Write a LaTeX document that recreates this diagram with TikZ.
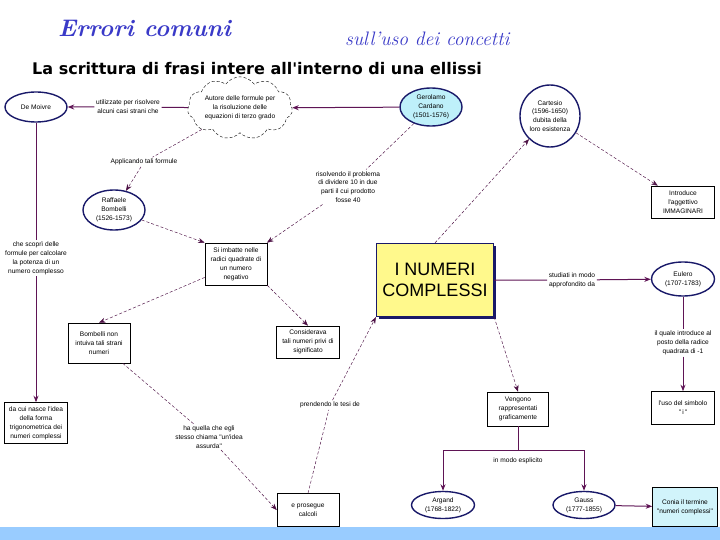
\documentclass[tikz,border=0pt]{standalone}
\usepackage{fontspec}
\newfontfamily\labfont{Liberation Sans}
\newfontfamily\subfont{DejaVu Sans}
\usetikzlibrary{shapes.geometric,shapes.symbols,arrows.meta,shadows}
\definecolor{navyc}{RGB}{25,25,105}
\definecolor{lnk}{RGB}{95,20,85}
\definecolor{titc}{RGB}{58,58,200}
\definecolor{cyanc}{RGB}{190,240,250}
\definecolor{barc}{RGB}{153,204,255}
\newcommand\lab{\labfont\fontsize{6.6}{8.9}\selectfont}
\tikzstyle{ell}=[ellipse, draw=navyc, line width=1.4pt, fill=white, inner sep=0, minimum width=62pt, minimum height=30pt, align=center, font=\lab]
\tikzstyle{bx}=[rectangle, draw=black, line width=0.6pt, fill=white, inner sep=1pt, minimum width=62pt, minimum height=33pt, align=center, font=\lab]
\tikzstyle{lbl}=[inner sep=1.5pt, align=center, font=\lab]
\tikzstyle{fl}=[draw=lnk, line width=1pt, -{Stealth[length=6.5pt,width=5pt]}]
\tikzstyle{ln}=[draw=lnk, line width=1pt]
\tikzstyle{dl}=[draw=lnk!80!black, line width=0.45pt, densely dashed, -{Stealth[length=6.5pt,width=5pt]}]

\begin{document}
\begin{tikzpicture}[x=1pt,y=-1pt]
\useasboundingbox (0,0) rectangle (720,540);
\fill[white] (0,0) rectangle (720,540);
\fill[barc] (0,527) rectangle (720,540);
% titles
\node[anchor=base west, inner sep=0, text=titc, font=\fontsize{24}{28}\selectfont\bfseries\itshape] (tit) at (58,37) {Errori comuni};
\node[anchor=base west, inner sep=0, text=titc, font=\fontsize{19.5}{22}\selectfont\itshape] (subtit) at (345,46) {sull'uso dei concetti};
\node[anchor=base west, inner sep=0, font=\subfont\fontsize{16}{18}\selectfont\bfseries] (head) at (32,75) {La scrittura di frasi intere all'interno di una ellissi};
% nodes
\node[ell] (moivre) at (36,107) {De Moivre};
\node[lbl] (l1) at (128,107) {utilizzate per risolvere\\alcuni casi strani che};
\node[cloud, cloud puffs=11, cloud puff arc=110, aspect=2, draw=black, densely dashed, fill=white, minimum width=105pt, minimum height=54pt, inner sep=0, align=center, font=\lab] (cloud) at (240,108) {Autore delle formule per\\la risoluzione delle\\equazioni di terzo grado};
\node[ell, fill=cyanc, minimum height=38pt] (cardano) at (431,107) {Gerolamo\\Cardano\\(1501-1576)};
\node[ell, minimum width=60pt, minimum height=62pt] (cartesio) at (550,116) {Cartesio\\(1596-1650)\\dubita della\\loro esistenza};
\node[bx, minimum width=63pt, minimum height=32pt] (intro) at (683,202) {Introduce\\l'aggettivo\\IMMAGINARI};
\node[lbl] (l2) at (144,162) {Applicando tali formule};
\node[ell, minimum height=40pt] (raff) at (114,210) {Raffaele\\Bombelli\\(1526-1573)};
\node[lbl] (l3) at (348,187) {risolvendo il problema\\di dividere 10 in due\\parti il cui prodotto\\fosse 40};
\node[bx, minimum height=42pt] (imbatte) at (236,264) {Si imbatte nelle\\radici quadrate di\\un numero\\negativo};
\node[rectangle, draw=navyc, line width=1.3pt, fill=yellow!45, minimum width=117pt, minimum height=73pt, align=center, font=\labfont\fontsize{18}{21}\selectfont, drop shadow={fill=navyc, opacity=1, shadow xshift=2.5pt, shadow yshift=-2.5pt}] (numeri) at (435,280) {I NUMERI\\COMPLESSI};
\node[lbl] (l4) at (572,280) {studiati in modo\\approfondito da};
\node[ell, minimum width=63pt, minimum height=34pt] (eulero) at (683,279) {Eulero\\(1707-1783)};
\node[lbl] (l5) at (683,343) {il quale introduce al\\posto della radice\\quadrata di -1};
\node[bx, minimum width=63pt] (uso) at (683,408) {l'uso del simbolo\\"\,i\,"};
\node[lbl] (l6) at (36,258) {che scoprì delle\\formule per calcolare\\la potenza di un\\numero complesso};
\node[bx, minimum width=63pt, minimum height=41pt] (dacui) at (36,423) {da cui nasce l'idea\\della forma\\trigonometrica dei\\numeri complessi};
\node[bx, minimum height=40pt] (bombnon) at (99,343) {Bombelli non\\intuiva tali strani\\numeri};
\node[bx, minimum width=63pt, minimum height=32pt] (consid) at (308,342) {Considerava\\tali numeri privi di\\significato};
\node[lbl] (l7) at (209,437) {ha quella che egli\\stesso chiama "un'idea\\assurda"};
\node[bx] (prosegue) at (308,510) {e prosegue\\calcoli};
\node[lbl] (l8) at (330,405) {prendendo le tesi de};
\node[bx, minimum width=61pt, minimum height=34pt] (vengono) at (518,409) {Vengono\\rappresentati\\graficamente};
\coordinate (split) at (518,450);
\node[lbl] (l9) at (518,461) {in modo esplicito};
\node[ell, minimum width=63pt, minimum height=27pt] (argand) at (443,505) {Argand\\(1768-1822)};
\node[ell, minimum height=27pt] (gauss) at (584,505) {Gauss\\(1777-1855)};
\node[bx, fill=cyanc!70!white, minimum width=65pt, minimum height=39pt] (conia) at (685,507) {Conia il termine\\"numeri complessi"};
% connectors
\draw[fl] (cloud) -- (l1) -- (moivre);
\draw[fl] (cardano) -- (cloud);
\draw[dl] (cloud) -- (l2) -- (raff);
\draw[dl] (cardano) -- (l3) -- (imbatte);
\draw[dl] (raff) -- (imbatte.north west);
\draw[dl] (numeri.north) -- (cartesio);
\draw[dl] (cartesio) -- (intro);
\draw[fl] (numeri) -- (l4) -- (eulero);
\draw[fl] (eulero) -- (l5) -- (uso);
\draw[fl] (moivre) -- (l6) -- (dacui);
\draw[dl] (imbatte) -- (bombnon.north);
\draw[dl] (imbatte.south east) -- (consid.north);
\draw[dl] (bombnon) -- (l7) -- (prosegue.west);
\draw[dl] (prosegue.north) -- (l8) -- (numeri.south west);
\draw[dl] (numeri.south east) -- (vengono.north);
\draw[ln] (vengono) -- (split);
\draw[fl] (split) -| (argand);
\draw[fl] (split) -| (gauss);
\draw[fl] (gauss) -- (conia);
\end{tikzpicture}
\end{document}
